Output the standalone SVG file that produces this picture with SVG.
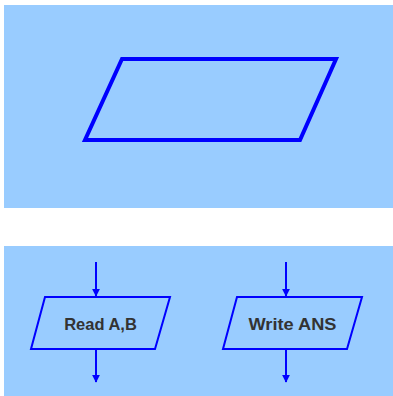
<svg xmlns="http://www.w3.org/2000/svg" width="393" height="396" viewBox="0 0 393 396">
  <style>
    .panel { fill: #99ccff; }
    .shape { fill: none; stroke: #0000ff; stroke-linejoin: miter; }
    .big { stroke-width: 4; }
    .small { stroke-width: 2; }
    .flow { stroke: #0000ff; stroke-width: 2; fill: none; }
    .label { font-family: "Liberation Sans", Arial, sans-serif; font-weight: bold; font-size: 16.5px; fill: #333333; text-anchor: middle; }
  </style>
  <defs>
    <marker id="head" viewBox="0 0 10 10" refX="9" refY="5" markerWidth="4" markerHeight="4" orient="auto" markerUnits="strokeWidth">
      <path d="M0,0 L10,5 L0,10 Z" fill="#0000ff"/>
    </marker>
  </defs>

  <rect width="393" height="396" fill="#ffffff"/>

  <!-- upper panel: bare input/output symbol -->
  <rect class="panel" x="4" y="5" width="389" height="203"/>
  <g id="io-symbol">
    <polygon class="shape big" points="122,59 336,59 300,140 85,140"/>
  </g>

  <!-- lower panel: examples -->
  <rect class="panel" x="4" y="246" width="389" height="150"/>

  <g id="connectors">
    <line class="flow" x1="96" y1="262" x2="96" y2="296" marker-end="url(#head)"/>
    <line class="flow" x1="96" y1="349" x2="96" y2="382" marker-end="url(#head)"/>
    <line class="flow" x1="286" y1="262" x2="286" y2="296" marker-end="url(#head)"/>
    <line class="flow" x1="286" y1="349" x2="286" y2="382" marker-end="url(#head)"/>
  </g>

  <g id="read-node">
    <polygon class="shape small" points="45,297 170,297 155,349 31,349"/>
    <text class="label" x="100.5" y="330">Read A,B</text>
  </g>

  <g id="write-node">
    <polygon class="shape small" points="237,297 362,297 347,349 223,349"/>
    <text class="label" x="292.5" y="330" textLength="88" lengthAdjust="spacingAndGlyphs">Write ANS</text>
  </g>
</svg>
